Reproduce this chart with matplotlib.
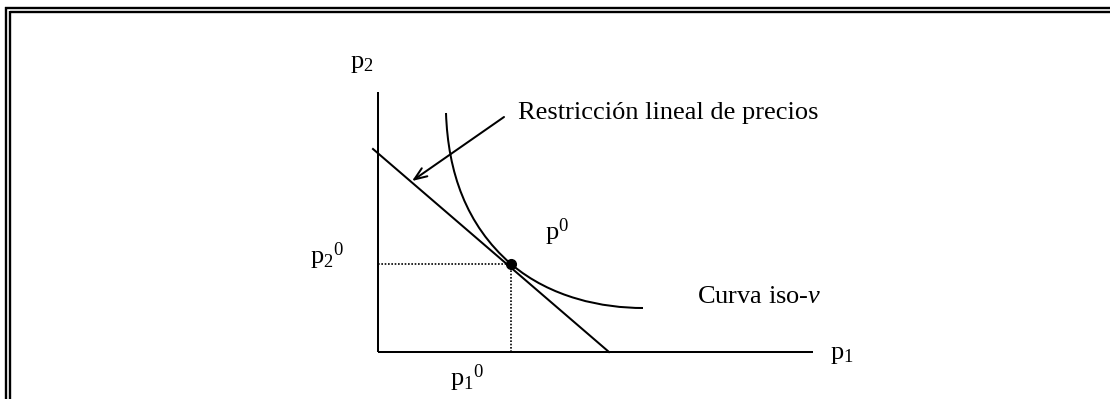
import matplotlib
matplotlib.use("Agg")
import matplotlib.pyplot as plt
from matplotlib.path import Path
from matplotlib.patches import PathPatch

plt.rcParams['font.family'] = ['Liberation Serif', 'DejaVu Serif']
plt.rcParams['mathtext.fontset'] = 'custom'
plt.rcParams['mathtext.rm'] = 'Liberation Serif'
plt.rcParams['mathtext.it'] = 'Liberation Serif:italic'

# ---- diagram data (units: origin at axes corner) ----
axis_x_end = 435
axis_y_end = 260
budget_x = [-5, 231]
budget_y = [203, 0]
# iso-v curve as two cubic Bezier segments: start, ctrl, ctrl, p0, ctrl, ctrl, end
iso_x = [68, 70, 88, 133, 173, 225, 265]
iso_y = [239, 180, 127, 88, 54, 44, 44]
p0 = (133, 88)
arrow_tail = (126, 235)
arrow_tip = (34, 171)

labels = {
    'p2': r'$\mathrm{p}_2$',
    'p1': r'$\mathrm{p}_1$',
    'p20': r'$\mathrm{p}_2{}^0$',
    'p10': r'$\mathrm{p}_1{}^0$',
    'p0': r'$\mathrm{p}^0$',
    'restr': 'Restricción lineal de precios',
    'iso': r'Curva iso-$\mathit{v}$',
}

W, H = 1110, 399
fig = plt.figure(figsize=(W / 100, H / 100), dpi=100)
ox, oy = 378, 352
ax = fig.add_axes([0, 0, 1, 1])
ax.set_xlim(-ox, W - ox)
ax.set_ylim(-(H - oy), oy)
ax.axis('off')

k = 'black'
lw = 1.45
ax.plot([0, 0], [0, axis_y_end], color=k, lw=lw, solid_capstyle='butt')
ax.plot([0, axis_x_end], [0, 0], color=k, lw=lw, solid_capstyle='butt')
ax.plot(budget_x, budget_y, color=k, lw=lw)
codes = [Path.MOVETO] + [Path.CURVE4] * 6
ax.add_patch(PathPatch(Path(list(zip(iso_x, iso_y)), codes), fill=False, edgecolor=k, lw=lw))
ax.plot([0, p0[0]], [p0[1], p0[1]], color=k, lw=1.2, ls=(0, (1, 1)))
ax.plot([p0[0], p0[0]], [0, p0[1]], color=k, lw=1.2, ls=(0, (1, 1)))
ax.plot([p0[0]], [p0[1]], 'o', color=k, ms=7)
ax.annotate('', xy=arrow_tip, xytext=arrow_tail,
            arrowprops=dict(arrowstyle='->,head_length=0.9,head_width=0.35', color=k, lw=lw,
                            shrinkA=0, shrinkB=0))

fs = 19
ax.text(-28, 284, labels['p2'], fontsize=fs, ha='left', va='baseline')
ax.text(452, -7, labels['p1'], fontsize=fs, ha='left', va='baseline')
ax.text(-68, 88, labels['p20'], fontsize=fs, ha='left', va='baseline')
ax.text(72, -34, labels['p10'], fontsize=fs, ha='left', va='baseline')
ax.text(167, 112, labels['p0'], fontsize=fs, ha='left', va='baseline')
ax.text(140, 233, labels['restr'], fontsize=fs, ha='left', va='baseline')
ax.text(319, 49, labels['iso'], fontsize=fs, ha='left', va='baseline')

# double frame (top and left)
fr = fig.add_axes([0, 0, 1, 1])
fr.set_xlim(0, W)
fr.set_ylim(H, 0)
fr.axis('off')
fr.patch.set_alpha(0)
flw = 1.7
fr.plot([5, W], [7.5, 7.5], color=k, lw=flw, solid_capstyle='butt')
fr.plot([6, 6], [6.5, H], color=k, lw=flw, solid_capstyle='butt')
fr.plot([10, W], [11.5, 11.5], color=k, lw=flw, solid_capstyle='butt')
fr.plot([10, 10], [10.5, H], color=k, lw=flw, solid_capstyle='butt')

fig.savefig('out.png', dpi=100)
